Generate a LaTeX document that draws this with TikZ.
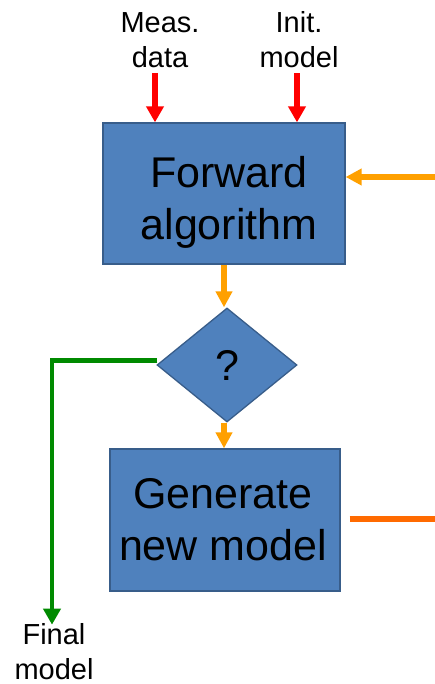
\documentclass[tikz,border=0pt]{standalone}
\usepackage{fontspec}
\setmainfont{Liberation Sans}
\usetikzlibrary{shapes.geometric,arrows.meta}
\definecolor{boxblue}{HTML}{4F81BD}
\definecolor{boxborder}{HTML}{385D8A}
\definecolor{arrred}{HTML}{FF0000}
\definecolor{arrorange}{HTML}{FFA000}
\definecolor{arrdarkorange}{HTML}{FF6A00}
\definecolor{arrgreen}{HTML}{008A00}
\begin{document}
\begin{tikzpicture}[x=1pt,y=-1pt,
  boxshape/.style={draw=boxborder, fill=boxblue, line width=1.3pt, inner sep=0pt},
  boxtext/.style={align=center, inner sep=0pt, font=\fontsize{43}{52}\selectfont},
  labeltext/.style={align=center, inner sep=0pt, font=\fontsize{29}{35}\selectfont},
  redarrow/.style={draw=arrred, line width=6pt, -{Triangle[width=17pt,length=16pt]}},
  orangearrow/.style={draw=arrorange, line width=5.5pt, -{Triangle[width=16pt,length=16pt]}},
  orangeline/.style={draw=arrorange, line width=5.5pt},
  darkorangeline/.style={draw=arrdarkorange, line width=5.5pt},
  greenarrow/.style={draw=arrgreen, line width=4.5pt, -{Triangle[width=17pt,length=16pt]}}
]
\useasboundingbox (0,0) rectangle (435,684);
\clip (0,0) rectangle (435,684);

% boxes
\node[boxshape, minimum width=242pt, minimum height=141pt] (fwd) at (224,193.5) {};
\node[boxtext] (fwdt) at (229,202.5) {Forward\\algorithm};
\node[boxshape, diamond, minimum width=140pt, minimum height=114pt, font=\fontsize{43}{52}\selectfont] (dia) at (227,365) {?};
\node[boxshape, minimum width=230pt, minimum height=142pt] (gen) at (225,520) {};
\node[boxtext] (gent) at (223,520) {Generate\\new model};

% labels
\node[labeltext] (meas) at (160,40) {Meas.\\data};
\node[labeltext] (init) at (299,40) {Init.\\model};
\node[labeltext] (final) at (54,652) {Final\\model};

% loop corners
\coordinate (c1) at (437.5,519);
\coordinate (c2) at (437.5,177);

% connectors
\draw[redarrow] ([xshift=-5pt,yshift=-5pt]meas.south) -- ([xshift=-5pt]meas.south |- fwd.north);
\draw[redarrow] ([xshift=-2pt,yshift=-5pt]init.south) -- ([xshift=-2pt]init.south |- fwd.north);
\draw[orangearrow] (fwd.south) -- (fwd.south |- dia.north);
\draw[orangearrow] ([xshift=-3pt]dia.south) -- ([xshift=-3pt]dia.south |- gen.north);
\draw[greenarrow] ([xshift=1pt,yshift=4.5pt]dia.west) -| ([xshift=-2pt,yshift=-1pt]final.north);
\draw[darkorangeline] ([xshift=9pt,yshift=1pt]gen.east) -- (c1);
\draw[orangeline] (c1) -- (c2);
\draw[orangearrow] (c2) -- ([yshift=16.5pt]fwd.east);
\end{tikzpicture}
\end{document}
